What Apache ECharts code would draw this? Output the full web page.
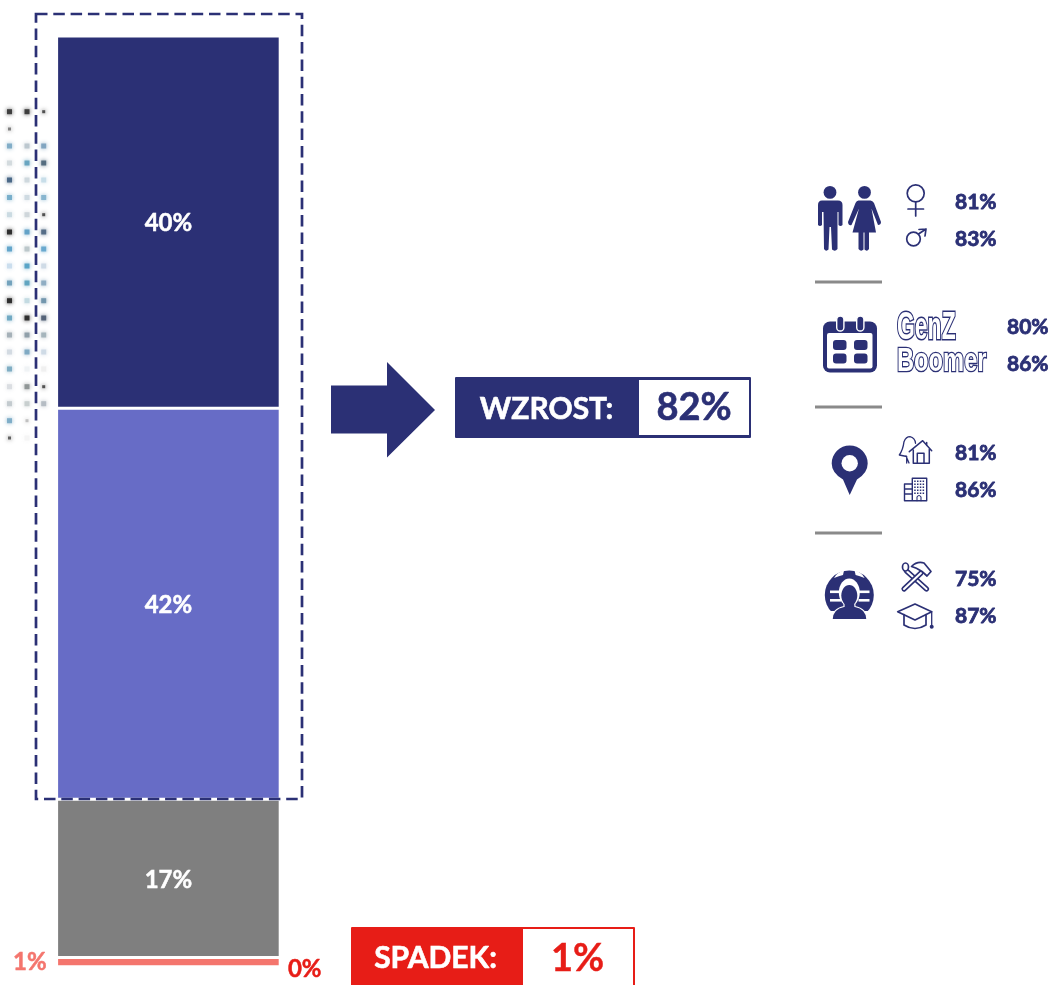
<!DOCTYPE html>
<html>
<head>
<meta charset="utf-8">
<style>html,body{margin:0;padding:0;background:#fff;overflow:hidden}#c{width:1054px;height:985px}</style>
<script src="https://cdn.jsdelivr.net/npm/echarts@6/dist/echarts.min.js"></script>
</head>
<body>
<div id="c"></div>
<script>
// ---- data ----
const categories = ['Ocena'];
const seriesNames = ['Zdecydowanie tak', 'Raczej tak', 'Bez zmian', 'Raczej nie', 'Zdecydowanie nie'];
const strongYes = [40];
const ratherYes = [42];
const neutral = [17];
const ratherNo = [1];
const strongNo = [0];
const growthTotal = '82%';
const declineTotal = '1%';
const genderValues = ['81%', '83%'];
const ageLabels = ['GenZ', 'Boomer'];
const ageValues = ['80%', '86%'];
const placeValues = ['81%', '86%'];
const workValues = ['75%', '87%'];

// decorative dot texture (left of the bar), one row per line
const dotRows = [
 ['#333','#333','#444'],['#777',null,null],['#7aa8c4','#b8c4cc','#7aa0bc'],['#d0d8dc','#5fa0bc','#4a6478'],
 ['#3f5f7f','#ccd6dc','#c4dce8'],['#70aac8','#ccd8e0','#80b0cc'],['#c8d8e0','#ccd4d8','#444'],['#222','#5a9cc4','#4a6480'],
 ['#5aa0c8','#b8c4c8','#60a4cc'],['#c8dcec','#50a0c4','#ccd8e4'],['#6a9cb8','#58a0bc','#88a8c0'],['#222','#c0d8e0','#6a90a8'],
 ['#68a4c0','#222','#4a5a70'],['#a0acb4','#8a9aa4','#a0b0b8'],['#d0d8e0','#78a4c0','#ccd8e4'],['#78a8c0','#eef2f4','#eeeeee'],
 ['#d8dce0','#8a9090','#444'],['#c0c8cc','#c4cccc','#b0b8c0'],['#78a8c4','#bbbbbb',null],['#555','#f4f4f4',null]
];

const NAVY = '#2b3075', PERI = '#676cc6', GREY = '#7f7f7f', SALMON = '#f4756d', RED = '#e71d17', LINE = '#8a8a8a';
const FONT = 'Lato, "Open Sans", sans-serif';

function txt(t, x, y, size, fill, align, bold) {
  const a = align||'left';
  return {type:'text', style:{text:t, x, y, fill, stroke:fill, lineWidth:bold===undefined?0.8:bold, font:'bold '+size+'px '+FONT, align:a, verticalAlign:'middle', textAlign:a, textVerticalAlign:'middle'}};
}
function rect(x,y,w,h,fill,r){return {type:'rect', shape:{x,y,width:w,height:h,r:r||0}, style:{fill}};}
function circ(cx,cy,r,fill){return {type:'circle', shape:{cx,cy,r}, style:{fill}};}
function ring(cx,cy,r,lw){return {type:'circle', shape:{cx,cy,r}, style:{fill:'none',stroke:NAVY,lineWidth:lw}};}
function fillP(d,fill){return {type:'path', shape:{pathData:d}, style:{fill:fill||NAVY}};}
function strokeP(d,lw,fill){return {type:'path', shape:{pathData:d}, style:{fill:fill||'none',stroke:NAVY,lineWidth:lw||1.6,lineJoin:'round',lineCap:'round'}};}
function capsule(d,w){return [
  {type:'path',shape:{pathData:d},style:{fill:'none',stroke:NAVY,lineWidth:w,lineCap:'round'}},
  {type:'path',shape:{pathData:d},style:{fill:'none',stroke:'#fff',lineWidth:w-3.2,lineCap:'round'}}];}

const g = [];

// dot texture
const dotX = [9.5, 27, 43.7];
const dotY = [111.7,129,146,163,180,197.5,214.7,232,249,266,283,300.7,318,335,352,369,386.7,403.7,420.7,438];
dotRows.forEach((row,i)=>row.forEach((c,j)=>{
  if(!c) return;
  const small = (c==='#444'||c==='#555'||c==='#777'||c==='#bbbbbb');
  const s = small?3:5;
  g.push({type:'rect', shape:{x:dotX[j]-s/2,y:dotY[i]-s/2,width:s,height:s},
    style:{fill:c,shadowBlur:4,shadowColor:c,opacity:0.9}});
}));

// dashed frame
g.push({type:'rect', shape:{x:36,y:14,width:266,height:785},
  style:{fill:'none',stroke:NAVY,lineWidth:2.7,lineDash:[11.5,5.8]}});

// arrow
g.push(fillP('M331 385.5L387 385.5L387 362L435 410L387 457.5L387 433.5L331 433.5Z'));

// growth box
g.push(rect(455,377,296,61,NAVY,1));
g.push(rect(639,380,110,55,'#fff'));
g.push(txt('WZROST:',546.5,409,30,'#fff','center',0.6));
g.push(txt(growthTotal,694,408,38,NAVY,'center',0.6));

// decline box
g.push(rect(351,927,284,70,RED,1));
g.push(rect(523,929,110,60,'#fff'));
g.push(txt('SPADEK:',435.5,958,30,'#fff','center',0.6));
g.push(txt(declineTotal,577.5,959,38,RED,'center',0.4));

// separators
[282,407,533].forEach(y=>g.push(rect(815,y-1.5,67,3,LINE)));

// value labels on the right
[[genderValues,955,202,239],[ageValues,1007,327,364],[placeValues,955,453,490],[workValues,955,579,616]].forEach(([v,x,y1,y2])=>{
  g.push(txt(v[0],x,y1,21,NAVY)); g.push(txt(v[1],x,y2,21,NAVY));
});

// man + woman
g.push(circ(830,192.4,6.4,NAVY), circ(864.5,192.4,6.4,NAVY));
g.push(fillP('M822 200.5L838 200.5Q842.5 200.5 842.5 205L842.5 225Q840.5 227 838.5 225L838.5 212L837.5 212L837.5 249Q835 252 832 249.5L831 227L829.5 227L828.5 249.5Q826 252 824 249L823.5 212L822 212L822 225Q820 227 818 225L818 205Q818 200.5 822 200.5Z'));
g.push(fillP('M858.5 200.5L870.5 200.5Q872.5 200.5 874 203L881 222Q881 225 878 225L871.5 208.5L876 232.5L869 232.5L869 249Q867 252 864.5 249.5L864.5 232.5L863.5 232.5L863.5 249.5Q861 252 858.5 249L858.5 232.5L852.5 232.5L859 208.5L851.5 225Q848.5 226 848 222L855.5 203Q856.5 200.5 858.5 200.5Z'));

// gender symbols
g.push(ring(915.7,193.3,8.5,1.7));
g.push(strokeP('M915.7 202L915.7 216M908 209L923.5 209',1.7));
g.push(ring(913.5,239,6.8,1.7));
g.push(strokeP('M918.5 234L926 229M919 229.5L926 229L925 236',1.7));

// calendar
g.push(rect(823,321.5,54,51,NAVY,7));
g.push(rect(827,333,45.5,35.5,'#fff',2));
[[833,340],[854,340],[833,353.5],[854,353.5]].forEach(([x,y])=>g.push(rect(x,y,13.5,10,NAVY,3)));
[840.3,860.3].forEach(x=>g.push({type:'rect',shape:{x:x-3.6,y:316,width:7.2,height:15,r:3.6},style:{fill:NAVY,stroke:'#fff',lineWidth:1.4}}));

// GenZ / Boomer outline text
function outline(t,x,y,size,sx,sy){
  return {type:'text',x:x,y:y,scaleX:sx,scaleY:sy,
    style:{text:t,x:0,y:0,fill:'#fff',stroke:NAVY,lineWidth:2.4,font:'bold '+size+'px "Liberation Sans Narrow","Liberation Sans","DejaVu Sans Condensed",sans-serif',align:'left',verticalAlign:'middle',textAlign:'left',textVerticalAlign:'middle'}};
}
g.push(outline(ageLabels[0],897,328,30,0.765,1.28));
g.push(outline(ageLabels[1],897,361.5,30,0.79,1.12));

// pin
g.push(fillP('M849.7 445.5A18 18 0 0 1 867.7 463.5Q867.7 473 857 479.5L849.7 495L843 479.5Q831.7 473 831.7 463.5A18 18 0 0 1 849.7 445.5Z'));
g.push(circ(849.7,463.3,8.2,'#fff'));

// house
g.push(strokeP('M906.7 463L906.7 456.5L899.3 455Q903 450 904 441.7Q906 436.7 910 436.7Q915 438 915.5 443.3M906 456L909 463',1.3));
g.push(strokeP('M909.3 451.7L922.7 440.7L931.7 450.7M913.3 450L913.3 463.3L929.3 463.3L929.3 449.3M917.3 463.3L917.3 453.3L924 453.3L924 463.3M926.7 442.5L926.7 445.5',1.5));

// building
g.push(strokeP('M904.5 484L912.3 484L912.3 500.7L904.5 500.7ZM912.3 478.3L926.7 478.3L926.7 500.7L912.3 500.7ZM904.5 489L912.3 489M904.5 494L912.3 494',1.4));
for(let i=0;i<4;i++)for(let j=0;j<5;j++){ g.push(rect(914.2+i*2.8,480.5+j*3,1.5,1.5,NAVY)); }
g.push(strokeP('M917 500.7L917 497Q919 494 921 497L921 500.7',1.1));

// person with gears
g.push(circ(849.3,595,24.5,NAVY));
g.push(rect(823,611,53,12,'#fff'));
g.push({type:'ellipse',shape:{cx:849.3,cy:592.5,rx:10.5,ry:14},style:{fill:'#fff'}});
[[830,590.5],[830,599],[858.5,590.5],[858.5,599]].forEach(([x,y])=>g.push(rect(x,y,11,2.6,'#fff')));
g.push(fillP('M834 578Q837 572 844 570.5L843 575Q839 576 834 578Z','#fff'), fillP('M864.6 578Q861.6 572 854.6 570.5L855.6 575Q859.6 576 864.6 578Z','#fff'));
g.push({type:'path',shape:{pathData:'M844 600L854.5 600L855 606.5Q866.5 608.5 867 619.7L832 619.7Q832.5 608.5 844 606.5Z'},style:{fill:NAVY,stroke:'#fff',lineWidth:1.2}});
g.push({type:'ellipse',shape:{cx:849.3,cy:595.5,rx:8,ry:10.5},style:{fill:NAVY}});

// tools
g.push(...capsule('M906.5 571L926.5 589',5.2));
g.push({type:'ellipse',shape:{cx:905.5,cy:567,rx:3,ry:4},style:{fill:'#fff',stroke:NAVY,lineWidth:1.7}});
g.push(...capsule('M904 589L921 573',5.2));
g.push(strokeP('M911.5 566.5Q917 561 924 563L931 571.5L927 576L922 571.5Q916 567.5 911.5 566.5Z',1.7,'#fff'));

// grad cap
g.push(strokeP('M897.7 611.7L915 604L931.7 611.7L915 620Z',1.7));
g.push(strokeP('M904 614.5L904 625Q915 632 926 625L926 614.5',1.7));
g.push(strokeP('M931.7 611.7L931.7 625',1.3));
g.push(circ(931.7,626.7,2,NAVY));

const labelBase = {show:true, fontFamily:FONT, fontWeight:'bold', fontSize:24, textBorderWidth:0.5, formatter:p=>p.value+'%'};
const border = {borderColor:'#fff', borderWidth:1.5};
function bar(i,data,color,label){
  return {name:seriesNames[i], type:'bar', stack:'total', barWidth:'100%', data, itemStyle:Object.assign({color},border),
    label:Object.assign({},labelBase,label), silent:true};
}

const chart = echarts.init(document.getElementById('c'),null,{renderer:'canvas'});
chart.setOption({
  animation:false,
  backgroundColor:'#fff',
  grid:{left:56.6,top:36,width:223.6,height:930.8},
  xAxis:{type:'category',data:categories,show:false},
  yAxis:{type:'value',min:0,max:100,show:false},
  series:[
    bar(4,strongNo,RED,{position:'right',distance:7,offset:[0,2],color:RED,textBorderColor:RED}),
    bar(3,ratherNo,SALMON,{position:'left',distance:10,offset:[0,0],color:SALMON,textBorderColor:SALMON}),
    bar(2,neutral,GREY,{position:'inside',offset:[0,2],color:'#fff',textBorderColor:'#fff'}),
    bar(1,ratherYes,PERI,{position:'inside',offset:[0,1],color:'#fff',textBorderColor:'#fff'}),
    bar(0,strongYes,NAVY,{position:'inside',offset:[0,1],color:'#fff',textBorderColor:'#fff'}),
    {type:'custom', coordinateSystem:'none', z:20, silent:true, data:[0],
     renderItem:()=>({type:'group',children:g})}
  ]
});
</script>
</body>
</html>
